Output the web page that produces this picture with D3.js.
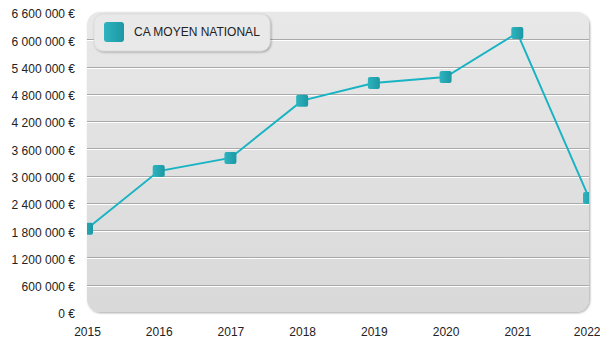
<!DOCTYPE html>
<html>
<head>
<meta charset="utf-8">
<script src="https://cdn.jsdelivr.net/npm/d3@7"></script>
<style>
  html, body { margin: 0; padding: 0; background: #fff; }
  svg { display: block; font-family: Arial, "Liberation Sans", sans-serif; }
</style>
</head>
<body>
<svg id="chart" width="600" height="350"></svg>
<script>
// Chiffre d'affaires moyen national par année
const years = ["2015", "2016", "2017", "2018", "2019", "2020", "2021", "2022"];
const caMoyen = [1830000, 3100000, 3390000, 4650000, 5040000, 5170000, 6140000, 2510000];
const yTicks = [0, 600000, 1200000, 1800000, 2400000, 3000000, 3600000, 4200000, 4800000, 5400000, 6000000, 6600000];
const seriesName = "CA MOYEN NATIONAL";

const svg = d3.select("#chart");
const plot = { left: 87, right: 589, top: 12, bottom: 312 };

const x = d3.scalePoint().domain(years).range([plot.left, plot.right]);
const y = d3.scaleLinear().domain([0, 6600000]).range([plot.bottom, plot.top]);

const fmt = v => d3.format(",")(v).replace(/,/g, " ") + " €";

const defs = svg.append("defs");
const bg = defs.append("linearGradient").attr("id", "bgGrad")
  .attr("x1", 0).attr("y1", 0).attr("x2", 0).attr("y2", 1);
bg.append("stop").attr("offset", "0%").attr("stop-color", "#e8e8e8");
bg.append("stop").attr("offset", "100%").attr("stop-color", "#d9d9d9");

const mk = defs.append("linearGradient").attr("id", "mkGrad")
  .attr("x1", 0).attr("y1", 0).attr("x2", 1).attr("y2", 0);
mk.append("stop").attr("offset", "0%").attr("stop-color", "#2eb4bf");
mk.append("stop").attr("offset", "100%").attr("stop-color", "#1c98a4");

const sh = defs.append("filter").attr("id", "shadow")
  .attr("x", "-10%").attr("y", "-10%").attr("width", "130%").attr("height", "140%");
sh.append("feDropShadow").attr("dx", 1).attr("dy", 1).attr("stdDeviation", 1)
  .attr("flood-color", "#000").attr("flood-opacity", 0.35);

defs.append("clipPath").attr("id", "plotClip")
  .append("rect")
  .attr("x", plot.left).attr("y", plot.top)
  .attr("width", plot.right - plot.left).attr("height", plot.bottom - plot.top)
  .attr("rx", 13);

// Fond du graphique
svg.append("rect")
  .attr("x", plot.left).attr("y", plot.top)
  .attr("width", plot.right - plot.left).attr("height", plot.bottom - plot.top)
  .attr("rx", 13)
  .attr("fill", "url(#bgGrad)")
  .attr("filter", "url(#shadow)");

// Grille horizontale en relief
const grid = svg.append("g").attr("clip-path", "url(#plotClip)");
const gridVals = yTicks.filter(v => v > 0 && v < 6600000);
grid.selectAll("line.g1").data(gridVals).join("line")
  .attr("x1", plot.left).attr("x2", plot.right)
  .attr("y1", d => Math.round(y(d)) + 0.5).attr("y2", d => Math.round(y(d)) + 0.5)
  .attr("stroke", "#a9a9a9").attr("stroke-width", 1);
grid.selectAll("line.g2").data(gridVals).join("line")
  .attr("x1", plot.left).attr("x2", plot.right)
  .attr("y1", d => Math.round(y(d)) + 1.5).attr("y2", d => Math.round(y(d)) + 1.5)
  .attr("stroke", "#ffffff").attr("stroke-width", 1);

// Axe Y
const yAxis = svg.append("g")
  .attr("transform", `translate(${plot.left - 12},2)`)
  .call(d3.axisLeft(y).tickValues(yTicks).tickFormat(fmt).tickSize(0).tickPadding(0));
yAxis.select(".domain").remove();
yAxis.selectAll("text").attr("font-size", 12).attr("fill", "#222")
  .attr("font-family", "Arial, 'Liberation Sans', sans-serif");

// Axe X
const xAxis = svg.append("g")
  .attr("transform", `translate(0,${plot.bottom + 10})`)
  .call(d3.axisBottom(x).tickSize(0).tickPadding(5));
xAxis.select(".domain").remove();
xAxis.selectAll("text").attr("font-size", 12).attr("fill", "#222")
  .attr("font-family", "Arial, 'Liberation Sans', sans-serif");
// la dernière année reste dans la zone visible
xAxis.selectAll(".tick").filter(d => d === years[years.length - 1])
  .select("text").attr("text-anchor", "end").attr("x", 11);

// Courbe et marqueurs
const series = svg.append("g").attr("clip-path", "url(#plotClip)");
const line = d3.line().x((d, i) => x(years[i])).y(d => y(d));
series.append("path")
  .datum(caMoyen)
  .attr("d", line)
  .attr("fill", "none")
  .attr("stroke", "#19b3c3")
  .attr("stroke-width", 2);

const ms = 12;
series.selectAll("rect.pt").data(caMoyen).join("rect")
  .attr("class", "pt")
  .attr("x", (d, i) => x(years[i]) - ms / 2)
  .attr("y", d => y(d) - ms / 2)
  .attr("width", ms).attr("height", ms)
  .attr("rx", 2)
  .attr("fill", "url(#mkGrad)");

// Légende
const lg = svg.append("g").attr("transform", "translate(94,14)");
lg.append("rect")
  .attr("width", 176).attr("height", 37).attr("rx", 9)
  .attr("fill", "#e9e9e9")
  .attr("stroke", "#d0d0d0").attr("stroke-width", 0.5)
  .attr("filter", "url(#shadow)");
lg.append("rect")
  .attr("x", 10).attr("y", 8).attr("width", 20).attr("height", 20).attr("rx", 3)
  .attr("fill", "url(#mkGrad)");
lg.append("text")
  .attr("x", 40).attr("y", 18).attr("dy", "0.35em")
  .attr("font-size", 12).attr("fill", "#222")
  .text(seriesName);
</script>
</body>
</html>
